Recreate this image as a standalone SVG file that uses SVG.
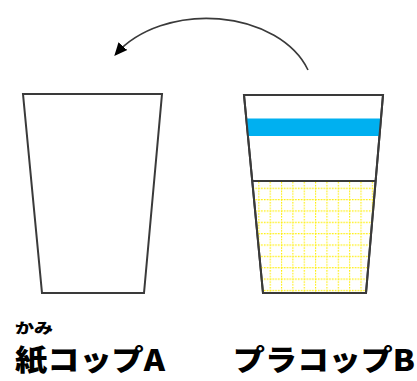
<svg xmlns="http://www.w3.org/2000/svg" width="417" height="381" viewBox="0 0 417 381">
<style>
.cup{fill:#fff;stroke:#3a3a3a;stroke-width:2;stroke-linejoin:miter}
.lbl{font-family:"Noto Sans CJK JP","Noto Sans",sans-serif;font-weight:900;fill:#000}
.conn{fill:none;stroke:#3a3a3a;stroke-width:1.6}
</style>
<defs>
<marker id="ah" viewBox="0 0 10 10" refX="8" refY="5" markerWidth="13" markerHeight="13" markerUnits="userSpaceOnUse" orient="auto"><path d="M0,0.5 L10,5 L0,9.5 z" fill="#000"/></marker>
<pattern id="grid" patternUnits="userSpaceOnUse" x="258.3" y="187.7" width="11.35" height="11.35">
<line x1="0.5" y1="0" x2="0.5" y2="11.35" stroke="#ffee00" stroke-width="1.2" stroke-dasharray="1.6 1.2"/>
<line x1="0" y1="0.5" x2="11.35" y2="0.5" stroke="#ffee00" stroke-width="1.2" stroke-dasharray="1.6 1.2"/>
</pattern>
<clipPath id="cupB"><polygon points="244,95 383,95 366,293 263,293"/></clipPath>
</defs>
<g id="connectors">
<path class="conn" d="M308,70 A107,76 0 0 0 116,54" marker-end="url(#ah)"/>
</g>
<g id="cupA">
<polygon class="cup" points="23,94 162,94 144,293 42,293"/>
</g>
<g id="cupB-node">
<polygon class="cup" points="244,95 383,95 366,293 263,293"/>
<g clip-path="url(#cupB)">
<rect x="240" y="118.5" width="150" height="17.5" fill="#00b0f0"/>
<rect x="240" y="181" width="150" height="115" fill="url(#grid)"/>
</g>
<line x1="252.3" y1="181" x2="375.6" y2="181" stroke="#3a3a3a" stroke-width="2"/>
<polygon points="244,95 383,95 366,293 263,293" fill="none" stroke="#3a3a3a" stroke-width="2"/>
</g>
<g id="labelA">
<text class="lbl" x="15" y="333" font-size="14" textLength="38" lengthAdjust="spacingAndGlyphs">かみ</text>
<text class="lbl" x="15" y="371" font-size="29" textLength="150" lengthAdjust="spacingAndGlyphs">紙コップA</text>
</g>
<g id="labelB">
<text class="lbl" x="233" y="371" font-size="29" textLength="182" lengthAdjust="spacingAndGlyphs">プラコップB</text>
</g>
</svg>
